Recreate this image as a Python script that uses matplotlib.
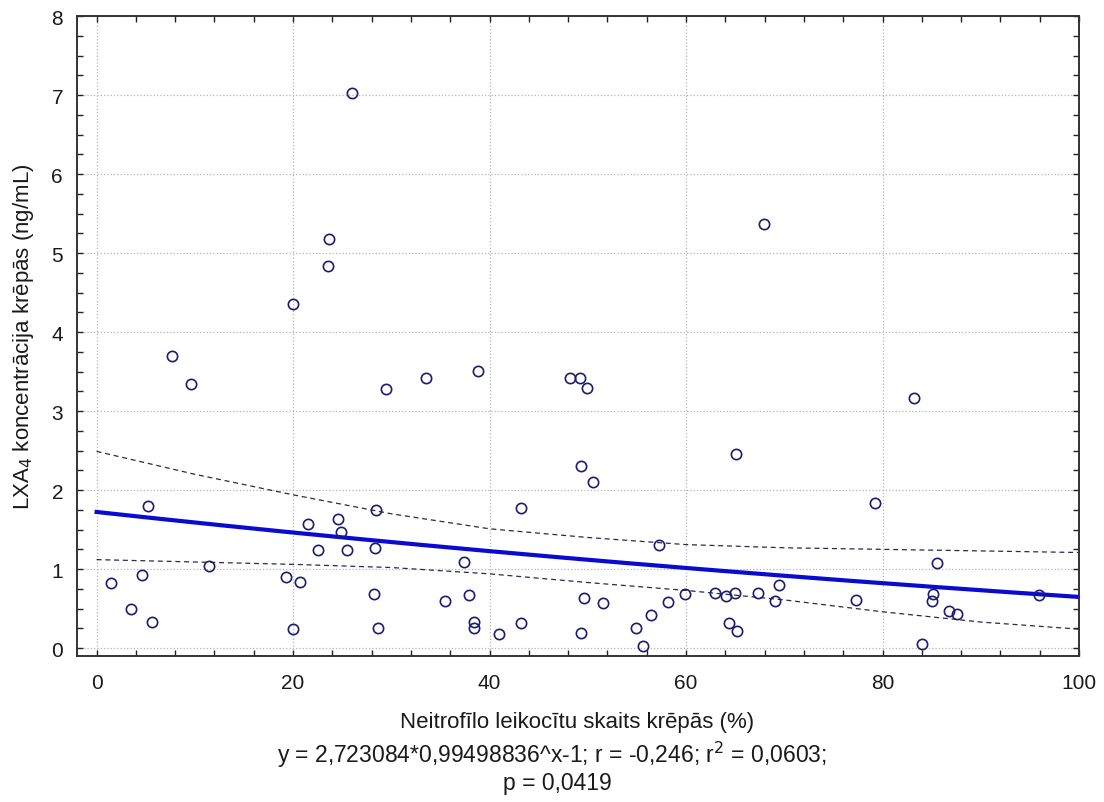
import numpy as np
import matplotlib
matplotlib.use("Agg")
import matplotlib.pyplot as plt
from matplotlib.ticker import MultipleLocator

plt.rcParams["font.family"] = ["Liberation Sans", "DejaVu Sans"]

# neutrophil share in sputum (%) vs LXA4 concentration (ng/mL)
neutrophils = [
    25.96, 23.65, 23.58, 20.0, 67.9,
    7.65, 9.61, 29.5, 5.27, 21.55, 24.6, 24.84, 22.5, 25.48, 28.4, 28.33,
    11.48, 1.44, 4.66, 3.51, 5.68, 19.25, 20.7, 19.96, 28.23, 28.6,
    33.5, 38.8, 48.2, 49.2, 49.9, 49.3, 50.5, 65.06, 43.2, 57.2,
    37.35, 35.5, 37.9, 38.37, 38.37, 40.95, 43.2, 49.6, 51.5, 49.3,
    54.9, 56.4, 55.6, 58.2, 59.9, 62.9, 64.1, 65.0, 64.4, 65.2,
    67.3, 69.1, 69.46,
    83.2, 79.2, 85.5, 77.3, 85.1, 85.0, 86.8, 87.6, 84.0, 95.9,
]
lxa4 = [
    7.03, 5.18, 4.84, 4.35, 5.37,
    3.70, 3.34, 3.28, 1.80, 1.57, 1.64, 1.47, 1.24, 1.24, 1.75, 1.27,
    1.04, 0.82, 0.93, 0.49, 0.33, 0.90, 0.84, 0.24, 0.68, 0.26,
    3.42, 3.51, 3.42, 3.42, 3.29, 2.30, 2.10, 2.46, 1.77, 1.31,
    1.09, 0.60, 0.67, 0.33, 0.26, 0.18, 0.32, 0.64, 0.57, 0.19,
    0.26, 0.42, 0.03, 0.58, 0.69, 0.70, 0.66, 0.70, 0.32, 0.22,
    0.70, 0.59, 0.80,
    3.17, 1.84, 1.08, 0.61, 0.68, 0.59, 0.47, 0.43, 0.05, 0.67,
]

# fitted model y = a * b^x - 1
fit_a = 2.723084
fit_b = 0.99498836

# 95% confidence band around the fit
band_x = [0, 10, 20, 30, 40, 50, 60, 70, 80, 90, 100]
band_upper = [2.49, 2.20, 1.94, 1.70, 1.51, 1.40, 1.31, 1.27, 1.25, 1.23, 1.21]
band_lower = [1.12, 1.09, 1.06, 1.02, 0.94, 0.83, 0.73, 0.61, 0.46, 0.33, 0.24]

TXT = "#1a1a1a"

fig = plt.figure(figsize=(11.04, 8.03), dpi=100)
ax = fig.add_axes([0.0697, 0.1818, 0.9077, 0.797])

xs = np.linspace(0, 100, 200)
ax.plot(xs, fit_a * fit_b ** xs - 1, color="#0a0ad0", lw=3.0, zorder=3)
ax.plot(band_x, band_upper, color="#2a2a4a", lw=0.9, ls=(0, (4, 3)), zorder=2)
ax.plot(band_x, band_lower, color="#2a2a4a", lw=0.9, ls=(0, (4, 3)), zorder=2)

ax.plot(neutrophils, lxa4, ls="none", marker="o", markersize=7.4,
        markerfacecolor="none", markeredgecolor="#1c1c70",
        markeredgewidth=1.2, zorder=4)

ax.set_xlim(-2, 100)
ax.set_ylim(-0.1, 8)
ax.xaxis.set_major_locator(MultipleLocator(20))
ax.xaxis.set_minor_locator(MultipleLocator(4))
ax.yaxis.set_major_locator(MultipleLocator(1))
ax.yaxis.set_minor_locator(MultipleLocator(0.25))
ax.tick_params(which="both", direction="in", top=True, right=True,
               length=4, width=1.0, color="#222222", labelsize=15,
               labelcolor=TXT)
ax.tick_params(axis="x", which="major", pad=12)
ax.tick_params(axis="y", which="major", pad=10)

ax.grid(True, which="major", color="#b5b5b5", ls=":", lw=0.9)
for sp in ax.spines.values():
    sp.set_color("#333333")
    sp.set_linewidth(1.4)

# axis titles and the fit summary below the plot
fig.text(0.0217, 0.580, "LXA$_4$ koncentrācija krēpās (ng/mL)",
         rotation=90, ha="center", va="center", fontsize=16, color=TXT)
fig.text(0.5226, 0.0934, "Neitrofīlo leikocītu skaits krēpās (%)",
         ha="center", va="baseline", fontsize=16, color=TXT)
fig.text(0.500, 0.0498,
         "y = 2,723084*0,99498836^x-1; r = -0,246; r$^2$ = 0,0603;",
         ha="center", va="baseline", fontsize=16.5, color=TXT)
fig.text(0.5045, 0.0162, "p = 0,0419",
         ha="center", va="baseline", fontsize=16.5, color=TXT)

fig.savefig("out.png", dpi=100)
